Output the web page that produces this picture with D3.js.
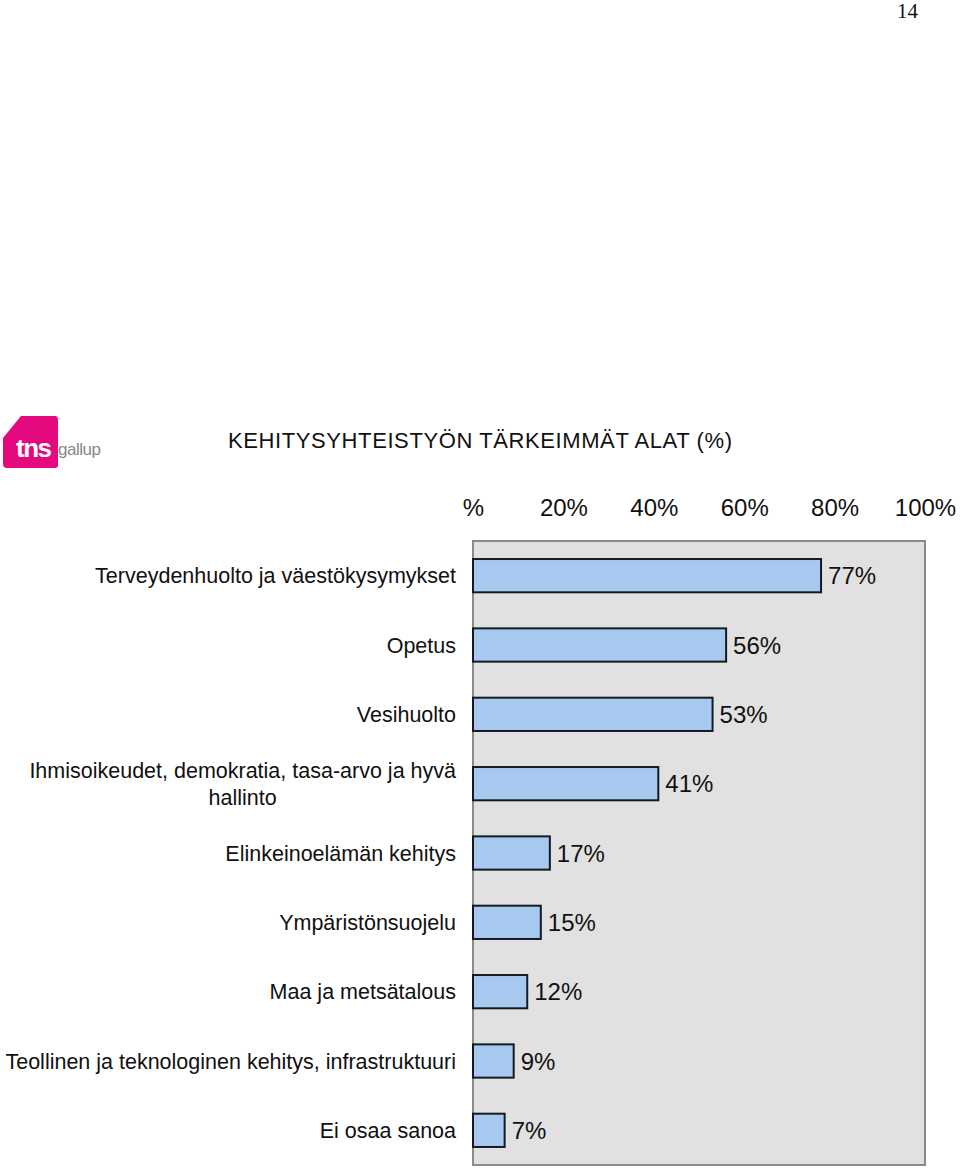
<!DOCTYPE html>
<html>
<head>
<meta charset="utf-8">
<script src="https://cdn.jsdelivr.net/npm/d3@7/dist/d3.min.js"></script>
<style>
  html, body { margin: 0; padding: 0; background: #fff; }
  svg { display: block; }
  text { font-family: "Liberation Sans", Arial, Helvetica, sans-serif; fill: #111; }
</style>
</head>
<body>
<svg id="chart" width="960" height="1169"></svg>
<script>
const categories = [
  ["Terveydenhuolto ja väestökysymykset"],
  ["Opetus"],
  ["Vesihuolto"],
  ["Ihmisoikeudet, demokratia, tasa-arvo ja hyvä", "hallinto"],
  ["Elinkeinoelämän kehitys"],
  ["Ympäristönsuojelu"],
  ["Maa ja metsätalous"],
  ["Teollinen ja teknologinen kehitys, infrastruktuuri"],
  ["Ei osaa sanoa"]
];
const values = [77, 56, 53, 41, 17, 15, 12, 9, 7];
const tickValues = [0, 20, 40, 60, 80, 100];
const tickLabels = ["%", "20%", "40%", "60%", "80%", "100%"];
const title = "KEHITYSYHTEISTYÖN TÄRKEIMMÄT ALAT (%)";
const pageNumber = "14";

const svg = d3.select("#chart");
const plot = { left: 473, right: 925, top: 541, bottom: 1165 };
const labelSize = "21.5px";

const keys = categories.map((c, i) => i);
const x = d3.scaleLinear().domain([0, 100]).range([plot.left, plot.right]);
const y = d3.scaleBand().domain(keys).range([plot.top, plot.bottom])
  .paddingInner(0.52).paddingOuter(0.26);

// page number
svg.append("text").attr("x", 918).attr("y", 18).attr("text-anchor", "end")
  .style("font-family", "'Liberation Serif', 'DejaVu Serif', serif")
  .style("font-size", "21px").text(pageNumber);

// logo
const logo = svg.append("g");
logo.append("path")
  .attr("d", "M3,438 L21,416 L55,416 Q58,416 58,419 L58,465 Q58,468 55,468 L7,468 Q3,468 3,464 Z")
  .attr("fill", "#e5097f");
logo.append("text").attr("x", 16).attr("y", 457)
  .style("font-family", "'Liberation Sans', Arial, sans-serif")
  .style("font-weight", "bold").style("font-size", "26px")
  .style("fill", "#fff").style("letter-spacing", "-1.5px").text("tns");
logo.append("text").attr("x", 58).attr("y", 455)
  .style("font-size", "17px").style("fill", "#888").style("letter-spacing", "-0.5px").text("gallup");
logo.append("text").attr("x", 56).attr("y", 421)
  .style("font-size", "5px").style("fill", "#aaa").text("™");

// title
svg.append("text").attr("x", 228).attr("y", 448)
  .attr("textLength", 504).attr("lengthAdjust", "spacing")
  .style("font-size", "22px").text(title);

// plot background
svg.append("rect")
  .attr("x", plot.left).attr("y", plot.top)
  .attr("width", plot.right - plot.left).attr("height", plot.bottom - plot.top)
  .attr("fill", "#e1e1e1").attr("stroke", "#8a8a8a").attr("stroke-width", 2);

// axis on top
const axis = d3.axisTop(x).tickValues(tickValues)
  .tickFormat((d, i) => tickLabels[i]).tickSize(0).tickPadding(5);
const ag = svg.append("g").attr("transform", `translate(0,521)`).call(axis);
ag.select(".domain").remove();
ag.selectAll("text").style("font-size", "24px")
  .style("font-family", "'Liberation Sans', Arial, sans-serif").attr("fill", "#111");

// bars
svg.append("g").selectAll("rect").data(values).join("rect")
  .attr("x", x(0))
  .attr("y", (d, i) => y(i))
  .attr("width", d => x(d) - x(0))
  .attr("height", y.bandwidth())
  .attr("fill", "#a7c9ef")
  .attr("stroke", "#141a24").attr("stroke-width", 2);

// value labels
svg.append("g").selectAll("text").data(values).join("text")
  .attr("x", d => x(d) + 7)
  .attr("y", (d, i) => y(i) + y.bandwidth() / 2)
  .attr("dy", "0.36em")
  .style("font-size", "24px")
  .text(d => d + "%");

// category labels
const lg = svg.append("g");
categories.forEach((lines, i) => {
  const cy = y(i) + y.bandwidth() / 2;
  const lh = 27;
  const startY = cy - (lines.length - 1) * lh / 2;
  if (lines.length === 1) {
    lg.append("text").attr("x", 456).attr("y", cy).attr("dy", "0.36em")
      .attr("text-anchor", "end").style("font-size", labelSize).text(lines[0]);
  } else {
    const tmp = lg.append("text").style("font-size", labelSize).text(lines[0]);
    const w = tmp.node().getComputedTextLength();
    tmp.remove();
    const cx = 456 - w / 2;
    lines.forEach((ln, j) => {
      lg.append("text").attr("x", cx).attr("y", startY + j * lh).attr("dy", "0.36em")
        .attr("text-anchor", "middle").style("font-size", labelSize).text(ln);
    });
  }
});
</script>
</body>
</html>
